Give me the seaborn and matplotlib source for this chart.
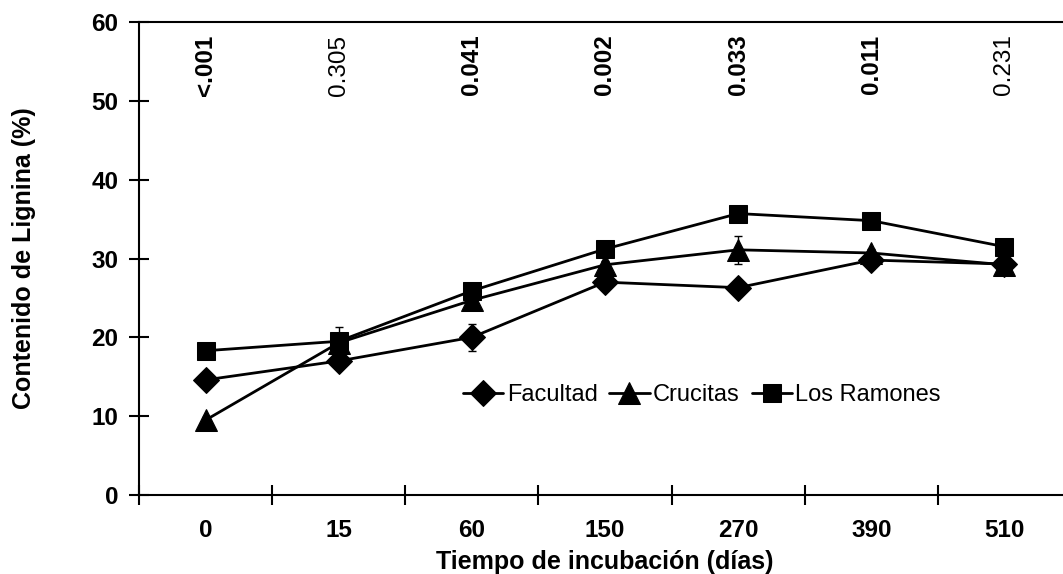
import matplotlib
matplotlib.use("Agg")
import matplotlib.pyplot as plt
import pandas as pd
import numpy as np
import seaborn as sns

# datos
dias = ["0", "15", "60", "150", "270", "390", "510"]
facultad = [14.6, 17.0, 20.0, 27.0, 26.3, 29.8, 29.3]
crucitas = [9.5, 19.3, 24.7, 29.2, 31.1, 30.7, 29.2]
ramones = [18.3, 19.5, 25.9, 31.2, 35.7, 34.8, 31.5]
err_facultad = [0.4, 0.4, 1.7, 0.4, 0.4, 0.4, 0.4]
err_crucitas = [0.4, 2.0, 0.5, 0.5, 1.8, 0.5, 0.5]
err_ramones = [0.4, 0.5, 0.5, 0.5, 0.5, 0.5, 0.5]
p_valores = ["<.001", "0.305", "0.041", "0.002", "0.033", "0.011", "0.231"]
p_negrita = [True, False, True, True, True, True, False]

sitios = ["Facultad", "Crucitas", "Los Ramones"]
series = [facultad, crucitas, ramones]
errores = [err_facultad, err_crucitas, err_ramones]

sns.set_style("white")
plt.rcParams['font.family'] = ['Liberation Sans', 'DejaVu Sans']
plt.rcParams['text.color'] = 'black'
plt.rcParams['axes.labelcolor'] = 'black'
plt.rcParams['xtick.color'] = 'black'
plt.rcParams['ytick.color'] = 'black'

pos = np.arange(len(dias))
df = pd.DataFrame({
    'x': np.tile(pos, 3),
    'Lignina': np.concatenate(series),
    'Sitio': np.repeat(sitios, len(dias)),
})

fig = plt.figure(figsize=(10.63, 5.74), dpi=100)
ax = fig.add_axes([139/1063, 79/574, 932/1063, 473/574])

# barras de error primero (debajo de los marcadores)
for vals, errs in zip(series, errores):
    ax.errorbar(pos, vals, yerr=errs, fmt='none', ecolor='black',
                elinewidth=1, capsize=3, capthick=1, zorder=1)

sns.lineplot(data=df, x='x', y='Lignina', style='Sitio', hue='Sitio',
             palette=['black'] * 3, markers={'Facultad': 'D', 'Crucitas': '^', 'Los Ramones': 's'},
             dashes=False, markersize=13, linewidth=2, markeredgecolor='black',
             ax=ax, zorder=3)
# el triangulo se ve mas grande en el original
for ln in ax.lines:
    if ln.get_marker() == '^':
        ln.set_markersize(16)

# p-valores arriba
for i, (p, b) in enumerate(zip(p_valores, p_negrita)):
    ax.text(pos[i], 58.4, p, rotation=90, ha='center', va='top', fontsize=17.5,
            fontweight='bold' if b else 'normal')

ax.set_xlim(-0.5, 6.5)
ax.set_ylim(0, 60)
ax.set_yticks(range(0, 61, 10))
ax.set_xticks(pos)
ax.set_xticklabels(dias)
ax.set_xticks(np.arange(-0.5, 7, 1), minor=True)
ax.tick_params(axis='x', which='major', bottom=True, length=0, pad=17, labelsize=17.5)
ax.tick_params(axis='x', which='minor', bottom=True, direction='inout', length=14, width=1.5, color='black')
ax.tick_params(axis='y', left=True, direction='inout', length=14, width=1.5, color='black', pad=8, labelsize=17.5)
for t in ax.get_xticklabels() + ax.get_yticklabels():
    t.set_fontweight('bold')

for s in ax.spines.values():
    s.set_color('black')
    s.set_linewidth(1.5)

ax.set_xlabel('Tiempo de incubación (días)', fontsize=18, fontweight='bold', labelpad=6)
ax.set_ylabel('Contenido de Lignina (%)', fontsize=18, fontweight='bold', labelpad=40)

leg = ax.legend(ncol=3, frameon=False, loc='center left', bbox_to_anchor=(0.335, 0.211),
                fontsize=17, handlelength=1.7, handletextpad=0.15, columnspacing=0.5,
                borderpad=0, markerscale=1)
for h in leg.legend_handles:
    if h.get_marker() == '^':
        h.set_markersize(16)

fig.savefig('out.png', dpi=100)
